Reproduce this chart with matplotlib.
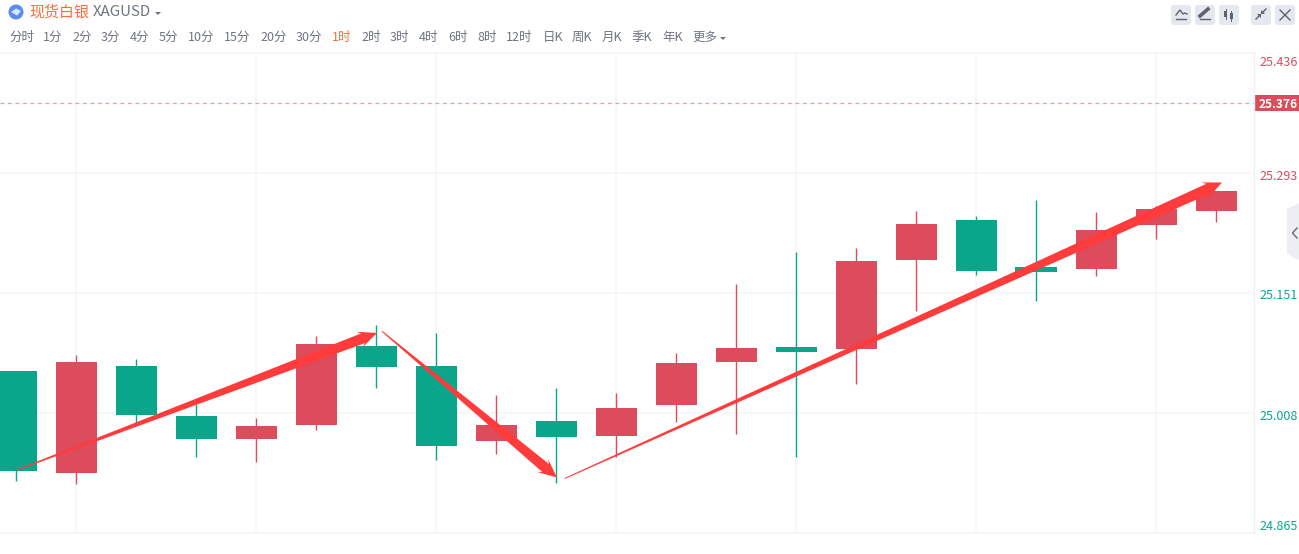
import numpy as np
import matplotlib
matplotlib.use("Agg")
import matplotlib.pyplot as plt
from matplotlib.patches import Circle, FancyBboxPatch, Polygon, Rectangle

plt.rcParams['font.family'] = ['Noto Sans CJK SC', 'DejaVu Sans']

# candles
opens = [25.058, 24.936, 25.064, 25.004, 24.977, 24.993, 25.088, 25.064, 24.974, 24.998, 24.980,
         25.017, 25.068, 25.086, 25.084, 25.190, 25.237, 25.181, 25.179, 25.231, 25.248]
closes = [24.939, 25.068, 25.005, 24.977, 24.992, 25.090, 25.062, 24.969, 24.993, 24.979, 25.014,
          25.067, 25.085, 25.080, 25.189, 25.233, 25.177, 25.175, 25.225, 25.250, 25.272]
highs = [25.058, 25.077, 25.072, 25.018, 25.002, 25.099, 25.112, 25.103, 25.029, 25.038, 25.031,
         25.079, 25.161, 25.199, 25.204, 25.248, 25.242, 25.261, 25.247, 25.254, 25.272]
lows = [24.927, 24.923, 24.993, 24.955, 24.950, 24.987, 25.038, 24.952, 24.959, 24.924, 24.956,
        24.997, 24.983, 24.955, 25.042, 25.129, 25.172, 25.141, 25.171, 25.215, 25.235]

price_ticks = [24.865, 25.008, 25.151, 25.293, 25.436]
label_shift = [7, -4, -3, -3, -9]
last_price = 25.376
time_grid = [1, 4, 7, 10, 13, 16, 19]

# hand drawn arrows: (start index, start price, end index, end price)
arrows = [(0.017, 24.940, 6.017, 25.103),
          (6.100, 25.105, 9.017, 24.931),
          (9.150, 24.930, 20.100, 25.282)]

periods = ["分时", "1分", "2分", "3分", "4分", "5分", "10分", "15分", "20分", "30分", "1时", "2时", "3时",
           "4时", "6时", "8时", "12时", "日K", "周K", "月K", "季K", "年K", "更多"]
period_x = [9.5, 43, 72, 101, 130, 159, 188, 224, 260, 296, 332, 361, 390,
            419, 448, 477, 506, 543, 572, 602, 632, 662, 692]

RED = "#dc4c5c"
GREEN = "#09a68c"
ORANGE = "#ff6b3d"
GREY = "#6f7480"
GRID = "#f5f5f7"
ARROW = "#ff3b3b"

W, H = 1299, 554
fig = plt.figure(figsize=(W / 100, H / 100), dpi=100, facecolor="white")
ax = fig.add_axes([0, (H - 533) / H, 1254 / W, 480 / H])
ax.set_xlim(-16 / 60, (1254 - 16) / 60)
ax.set_ylim(price_ticks[0], price_ticks[-1])
ax.set_zorder(1)

for s in ["top", "left", "bottom"]:
    ax.spines[s].set_visible(False)
ax.spines["right"].set_color("#f0f0f2")
ax.spines["right"].set_linewidth(1)

ax.set_yticks(price_ticks)
ax.set_xticks(time_grid)
ax.tick_params(axis="both", length=0, labelbottom=False, labelleft=False)
ax.grid(True, color=GRID, lw=1.1, zorder=0)
for gl in ax.get_ygridlines():
    gl.set_clip_on(False)
ax.set_axisbelow(True)

# price labels sit a little off their grid lines
for p, dy in zip(price_ticks, label_shift):
    ax.annotate(f"{p:.3f}", xy=(1, p), xycoords=("axes fraction", "data"), xytext=(5, dy),
                textcoords="offset pixels", ha="left", va="center", fontsize=9,
                color=RED if p > 25.2 else GREEN, annotation_clip=False)

# candles
idx = np.arange(len(opens))
for i in idx:
    c = RED if closes[i] >= opens[i] else GREEN
    ax.vlines(i, lows[i], highs[i], color=c, lw=1.0, zorder=2)
    ax.bar(i, abs(closes[i] - opens[i]), bottom=min(opens[i], closes[i]), width=41 / 60,
           color=c, linewidth=0, zorder=3)

# last price line and its tag
ax.axhline(last_price, color="#f09aa3", lw=0.9, ls=(0, (3, 3)), zorder=1)
ax.annotate(f"{last_price:.3f}", xy=(1, last_price), xycoords=("axes fraction", "data"),
            xytext=(24, -1), textcoords="offset pixels", ha="center", va="center",
            color="white", fontsize=8.6, fontweight="bold", annotation_clip=False, zorder=6)
trans = ax.transData


def tapered_arrow(x0, y0, x1, y1):
    # thin tail, thick neck, swallow tail head, worked out in screen pixels
    a = trans.transform((x0, y0))
    b = trans.transform((x1, y1))
    d = b - a
    d = d / np.hypot(*d)
    n = np.array([-d[1], d[0]])
    neck = b - d * 15
    barb = b - d * 19
    pts = [a + n * 0.5, neck + n * 5.2, barb + n * 8.5, b, barb - n * 8.5, neck - n * 5.2, a - n * 0.5]
    fig.add_artist(Polygon(pts, closed=True, fc=ARROW, ec="none", transform=None, zorder=5))


for x0, y0, x1, y1 in arrows:
    tapered_arrow(x0, y0, x1, y1)

# page furniture on a pixel overlay
ov = fig.add_axes([0, 0, 1, 1], facecolor="none")
ov.set_xlim(0, W)
ov.set_ylim(H, 0)
ov.axis("off")
ov.set_zorder(0)

ov.add_patch(Circle((16, 12), 7.5, fc="#5b8def", ec="none"))
ov.add_patch(Polygon([(11, 12), (16, 8.5), (21, 11), (17, 15.5)], fc="#dce7fb", ec="none"))
ov.text(29, 12.5, "现货白银", color=ORANGE, fontsize=10.8, va="center", ha="left")
ov.text(93, 12.5, "XAGUSD", color=GREY, fontsize=10.8, va="center", ha="left")
ov.add_patch(Polygon([(155, 12), (161, 12), (158, 15)], fc=GREY, ec="none"))

for name, x in zip(periods, period_x):
    ov.text(x, 37, name, color=ORANGE if name == "1时" else GREY, fontsize=9, va="center", ha="left")
ov.add_patch(Polygon([(720, 37), (726, 37), (723, 40)], fc=GREY, ec="none"))

# price tag background
ov.add_patch(Rectangle((1254, 95), 45, 16, fc=RED, ec="none"))

# toolbar buttons
for bx in [1171, 1195, 1219, 1251, 1275]:
    ov.add_patch(FancyBboxPatch((bx, 5), 20, 20, boxstyle="round,pad=0,rounding_size=3",
                                fc="#e6e8ef", ec="none"))
ico = "#5d6270"
ov.plot([1176, 1180, 1183, 1185, 1187], [15, 10, 14, 13, 14], color=ico, lw=1)
ov.plot([1176, 1186], [18.5, 18.5], color=ico, lw=1)
ov.plot([1200, 1208], [16, 9], color=ico, lw=2.6)
ov.plot([1200, 1210], [18.8, 18.8], color=ico, lw=1)
ov.add_patch(Rectangle((1224.5, 11), 3, 6, fc=ico, ec="none"))
ov.add_patch(Rectangle((1230, 13), 3, 6, fc=ico, ec="none"))
ov.plot([1226, 1226], [9, 19], color=ico, lw=0.7)
ov.plot([1231.5, 1231.5], [11, 21], color=ico, lw=0.7)
ov.plot([1256, 1260], [19, 15], color=ico, lw=1)
ov.plot([1262, 1266], [13, 9], color=ico, lw=1)
ov.add_patch(Polygon([(1257, 14), (1261, 14), (1261, 18)], fc=ico, ec="none"))
ov.add_patch(Polygon([(1261, 14), (1261, 10), (1265, 14)], fc=ico, ec="none"))
ov.plot([1280, 1290], [10, 20], color=ico, lw=1)
ov.plot([1280, 1290], [20, 10], color=ico, lw=1)

# side handle
ov.add_patch(Polygon([(1299, 203), (1287, 209), (1287, 254), (1299, 260)], fc="#eceef2", ec="none"))
ov.plot([1297, 1292.5, 1297], [228, 233, 238], color=GREY, lw=1.1)

fig.savefig("out.png", dpi=100)
